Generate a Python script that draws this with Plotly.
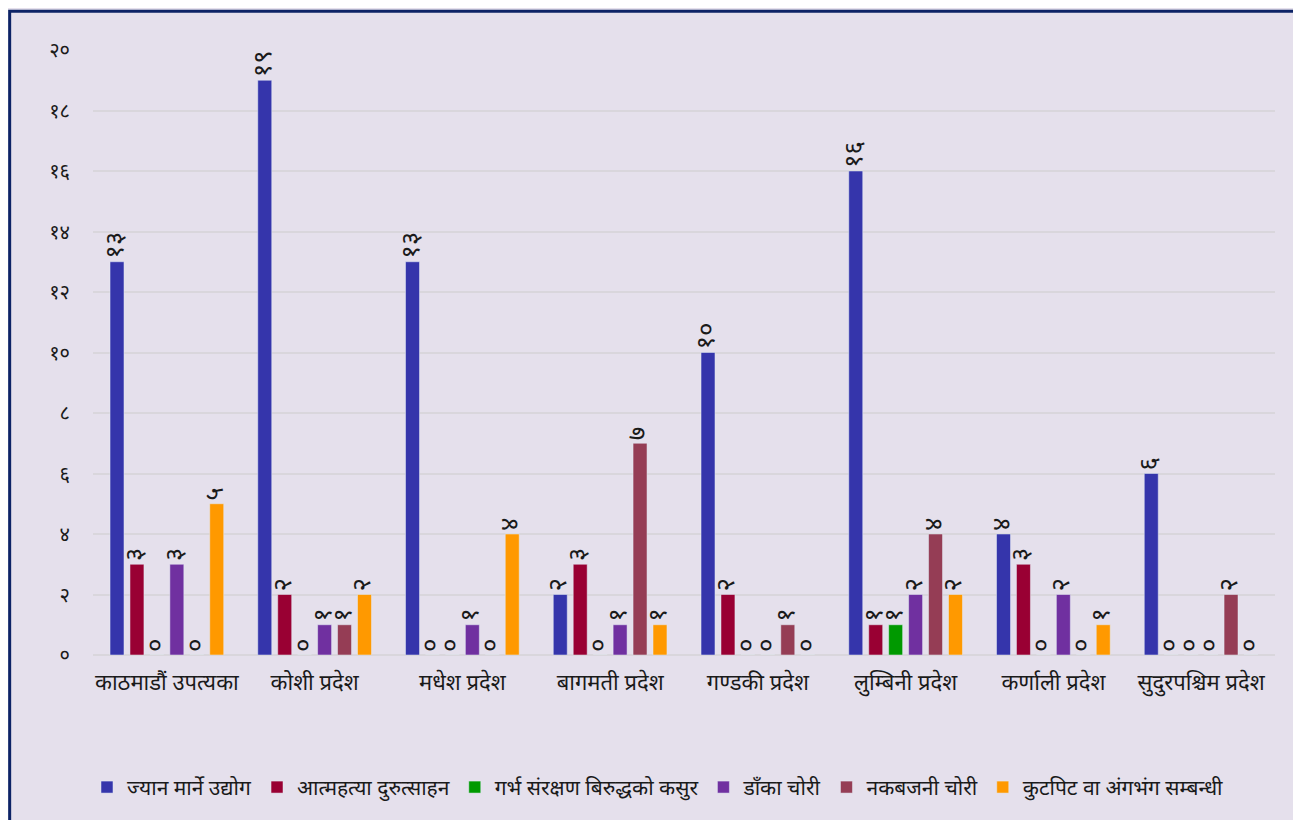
import plotly.graph_objects as go

BG     = "#e5e0ec"
NAVY   = "#0d2366"
GRID   = "#d9d6dc"
DARK   = "#1a1a1a"
FONT   = "Noto Sans Devanagari, Noto Sans, sans-serif"

provinces = ["काठमाडौं उपत्यका", "कोशी प्रदेश", "मधेश प्रदेश", "बागमती प्रदेश",
             "गण्डकी प्रदेश", "लुम्बिनी प्रदेश", "कर्णाली प्रदेश", "सुदुरपश्चिम प्रदेश"]

series_names = ["ज्यान मार्ने उद्योग", "आत्महत्या दुरुत्साहन", "गर्भ संरक्षण बिरुद्धको कसुर",
                "डाँका चोरी", "नकबजनी चोरी", "कुटपिट वा अंगभंग सम्बन्धी"]
series_colors = ["#3535ab", "#990033", "#009900", "#7030a0", "#953d55", "#ff9900"]

jyan_marne   = [13, 19, 13, 2, 10, 16, 4, 6]
aatmahatya   = [3, 2, 0, 3, 2, 1, 3, 0]
garbha       = [0, 0, 0, 0, 0, 1, 0, 0]
daka_chori   = [3, 1, 1, 1, 0, 2, 2, 0]
nakabjani    = [0, 1, 0, 7, 1, 4, 0, 2]
kutpit       = [5, 2, 4, 1, 0, 2, 1, 0]
series_values = [jyan_marne, aatmahatya, garbha, daka_chori, nakabjani, kutpit]

y_ticks = [0, 2, 4, 6, 8, 10, 12, 14, 16, 18, 20]

DIGITS = "०१२३४५६७८९"


def to_dev(n):
    return "".join(DIGITS[int(c)] for c in str(n))


fig = go.Figure()
for name, color, vals in zip(series_names, series_colors, series_values):
    fig.add_trace(go.Bar(
        x=provinces, y=vals, name=name,
        marker_color=color,
        text=[to_dev(v) for v in vals],
        textposition="outside",
        textangle=-90,
        constraintext="none",
        cliponaxis=False,
        textfont=dict(size=26, color=DARK, family=FONT),
    ))

# page body adds 8px, so the figure is drawn a little smaller than the window
fig.update_layout(
    width=1293, height=812,
    barmode="group",
    bargap=0.19,
    bargroupgap=0.3,
    plot_bgcolor=BG,
    paper_bgcolor=BG,
    font=dict(family=FONT, color=DARK),
    margin=dict(t=42, b=165, l=85, r=26),
    legend=dict(
        orientation="h", x=0.478, xanchor="center", y=-0.185, yanchor="top",
        font=dict(size=21, family=FONT), itemwidth=30, tracegroupgap=0,
        bgcolor="rgba(0,0,0,0)",
    ),
    shapes=[
        dict(type="rect", xref="paper", yref="paper",
             x0=-0.0705, x1=1.1, y0=-0.4, y1=1.064,
             line=dict(color=NAVY, width=3), fillcolor="rgba(0,0,0,0)", layer="below"),
    ],
)
fig.update_xaxes(showgrid=False, tickfont=dict(size=22, family=FONT), ticks="",
                 showline=False, ticklabelstandoff=12)
fig.update_yaxes(range=[0, 20], tickvals=y_ticks, ticktext=[to_dev(v) for v in y_ticks],
                 showgrid=True, gridcolor=GRID, gridwidth=2, zeroline=True,
                 zerolinecolor=GRID, zerolinewidth=2,
                 tickfont=dict(size=20, family=FONT), ticklabelstandoff=22)

fig.write_html("out.html")
